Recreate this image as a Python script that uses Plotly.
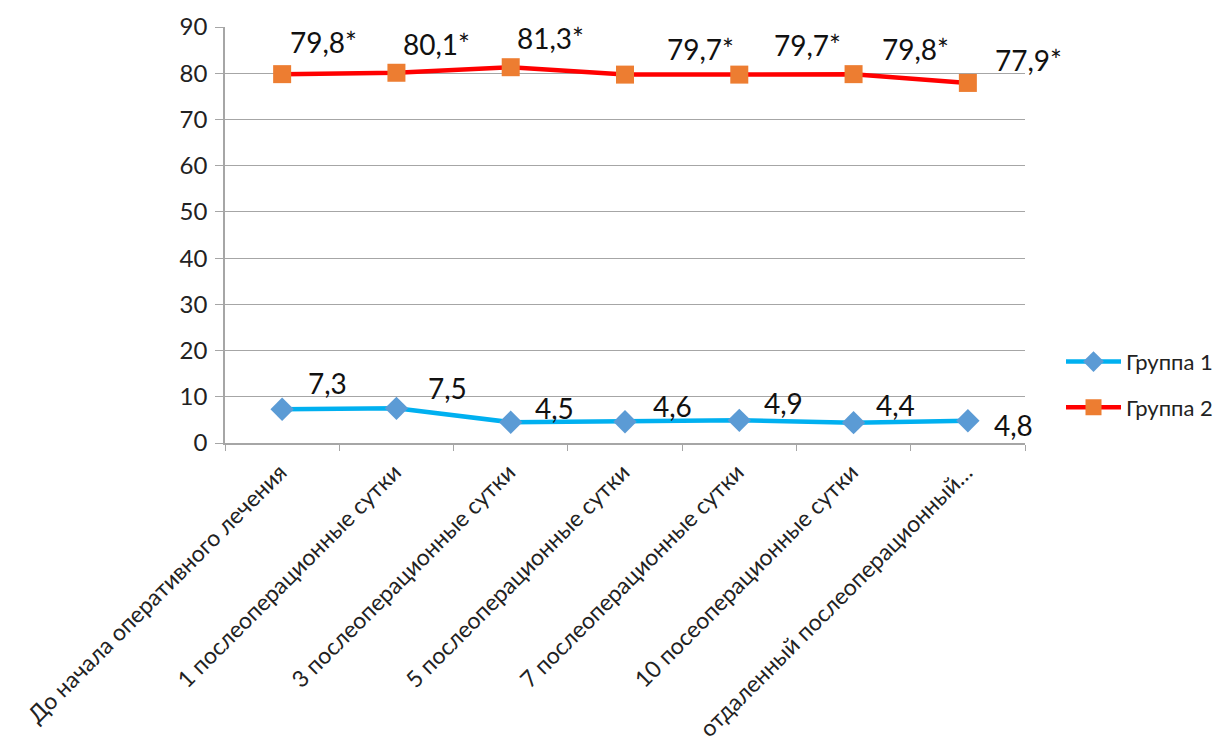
import plotly.graph_objects as go

categories = [
    "До начала оперативного лечения",
    "1 послеоперационные сутки",
    "3 послеоперационные сутки",
    "5 послеоперационные сутки",
    "7 послеоперационные сутки",
    "10 посеоперационные сутки",
    "отдаленный послеоперационный…",
]
group1 = [7.3, 7.5, 4.5, 4.6, 4.9, 4.4, 4.8]
group2 = [79.8, 80.1, 81.3, 79.7, 79.7, 79.8, 77.9]
group1_labels = ["7,3", "7,5", "4,5", "4,6", "4,9", "4,4", "4,8"]
group2_labels = ["79,8*", "80,1*", "81,3*", "79,7*", "79,7*", "79,8*", "77,9*"]
y_ticks = [0, 10, 20, 30, 40, 50, 60, 70, 80, 90]

# label offsets (px): (dx, dy upward)
g1_off = [(45, 26), (51, 20), (44, 14), (47, 16), (44, 17), (42, 18), (46, -4)]
g2_off = [(41, 32), (40, 29), (40, 29), (75, 26), (68, 30), (62, 25), (61, 23)]

FONT = "Lato"

fig = go.Figure()
fig.add_trace(go.Scatter(
    x=categories, y=group1, name="Группа 1", mode="lines+markers", legendgroup="g1",
    line=dict(color="#00B0F0", width=4.5),
    marker=dict(symbol="diamond", size=18, color="#5B9BD5"),
))
fig.add_trace(go.Scatter(
    x=categories, y=group2, name="Группа 2", mode="lines+markers", legendgroup="g2",
    line=dict(color="#FF0000", width=4.5),
    marker=dict(symbol="square", size=18, color="#ED7D31"),
))

for cat, v, t, (dx, dy) in zip(categories, group1, group1_labels, g1_off):
    fig.add_annotation(x=cat, y=v, text=t, showarrow=False, xshift=dx, yshift=dy,
                       font=dict(family=FONT, size=28, color="#111"))
for cat, v, t, (dx, dy) in zip(categories, group2, group2_labels, g2_off):
    fig.add_annotation(x=cat, y=v, text=t, showarrow=False, xshift=dx, yshift=dy,
                       font=dict(family=FONT, size=28, color="#111"))

fig.update_layout(
    width=1225, height=746,
    margin=dict(l=225, r=200, t=27, b=303, pad=0, autoexpand=False),
    plot_bgcolor="white", paper_bgcolor="white",
    font=dict(family=FONT, color="#222"),
    showlegend=True,
    legend=dict(x=1.045, y=0.14, xanchor="left", yanchor="middle",
                font=dict(family=FONT, size=22, color="#222"),
                traceorder="grouped",
                itemwidth=55, tracegroupgap=14, bgcolor="rgba(0,0,0,0)"),
    xaxis=dict(
        type="category", range=[-0.5, 6.5], tickson="boundaries", automargin=False,
        showgrid=False, showline=True, linecolor="#A6A6A6", linewidth=1.5,
        ticks="outside", ticklen=6, tickcolor="#A6A6A6",
        tickangle=-45, tickfont=dict(family=FONT, size=23, color="#222"),
        ticklabelshift=-2, ticklabelstandoff=5,
    ),
    yaxis=dict(
        range=[0, 90], tickvals=y_ticks, showgrid=True, gridcolor="#A6A6A6", gridwidth=1.2,
        showline=True, linecolor="#A6A6A6", linewidth=1.5, automargin=False,
        ticks="outside", ticklen=8, tickcolor="#A6A6A6", ticklabelstandoff=3,
        tickfont=dict(family=FONT, size=24, color="#222"), zeroline=False,
    ),
)

fig.write_html("out.html")
